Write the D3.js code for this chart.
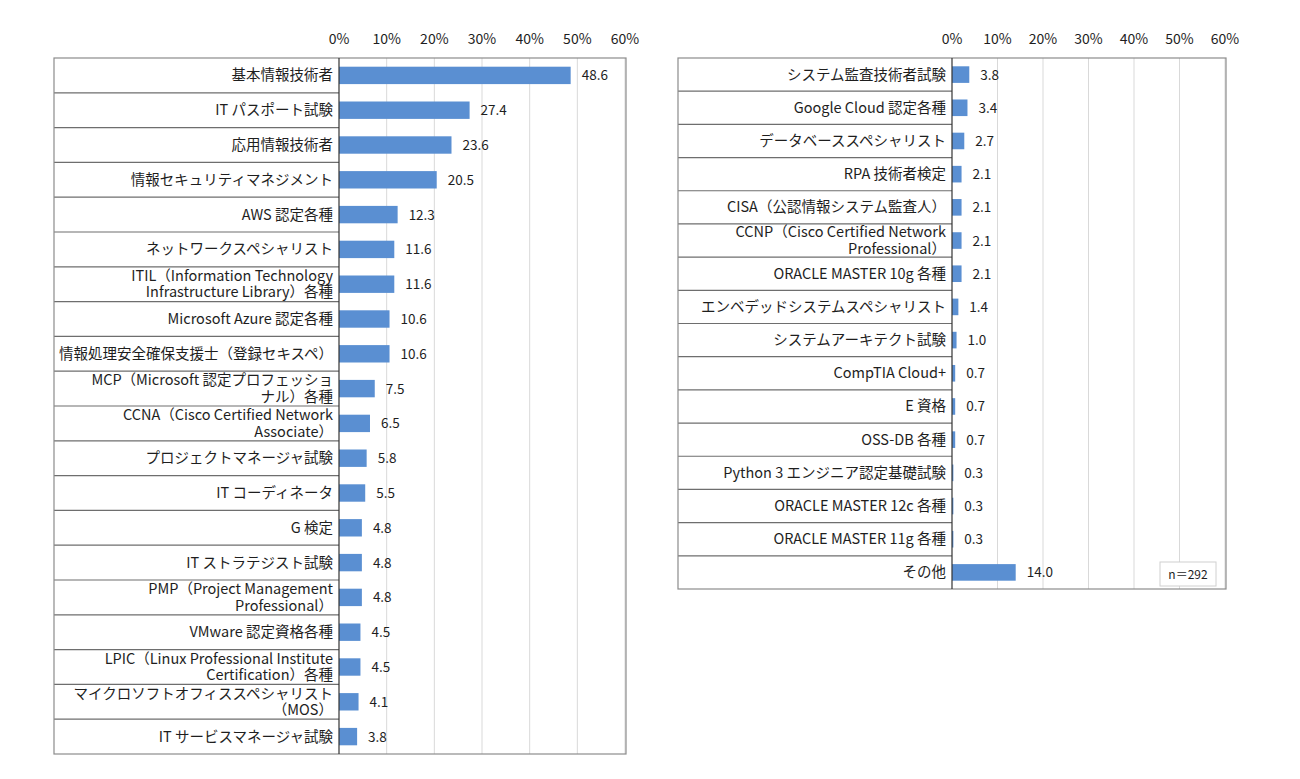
<!DOCTYPE html>
<html>
<head>
<meta charset="utf-8">
<script src="https://cdn.jsdelivr.net/npm/d3@7"></script>
<style>
  body { margin: 0; background: #fff; }
  text { font-family: "Noto Sans CJK JP", "Noto Sans", sans-serif; fill: #1e1e1e; }
</style>
</head>
<body>
<svg id="chart" width="1300" height="779"></svg>
<script>
'use strict';

const leftCategories = [
  "基本情報技術者", "IT パスポート試験", "応用情報技術者", "情報セキュリティマネジメント",
  "AWS 認定各種", "ネットワークスペシャリスト",
  "ITIL（Information Technology\nInfrastructure Library）各種",
  "Microsoft Azure 認定各種", "情報処理安全確保支援士（登録セキスペ）",
  "MCP（Microsoft 認定プロフェッショ\nナル）各種",
  "CCNA（Cisco Certified Network\nAssociate）",
  "プロジェクトマネージャ試験", "IT コーディネータ", "G 検定", "IT ストラテジスト試験",
  "PMP（Project Management\nProfessional）",
  "VMware 認定資格各種",
  "LPIC（Linux Professional Institute\nCertification）各種",
  "マイクロソフトオフィススペシャリスト\n（MOS）",
  "IT サービスマネージャ試験"
];
const leftValues = [48.6, 27.4, 23.6, 20.5, 12.3, 11.6, 11.6, 10.6, 10.6, 7.5,
  6.5, 5.8, 5.5, 4.8, 4.8, 4.8, 4.5, 4.5, 4.1, 3.8];

const rightCategories = [
  "システム監査技術者試験", "Google Cloud 認定各種", "データベーススペシャリスト",
  "RPA 技術者検定", "CISA（公認情報システム監査人）",
  "CCNP（Cisco Certified Network\nProfessional）",
  "ORACLE MASTER 10g 各種", "エンベデッドシステムスペシャリスト",
  "システムアーキテクト試験", "CompTIA Cloud+", "E 資格", "OSS-DB 各種",
  "Python 3 エンジニア認定基礎試験", "ORACLE MASTER 12c 各種",
  "ORACLE MASTER 11g 各種", "その他"
];
const rightValues = [3.8, 3.4, 2.7, 2.1, 2.1, 2.1, 2.1, 1.4, 1.0, 0.7, 0.7, 0.7,
  0.3, 0.3, 0.3, 14.0];

const tickValues = [0, 10, 20, 30, 40, 50, 60];
const sampleNote = "n＝292";

const svg = d3.select("#chart");

function drawPanel (cats, vals, box) {
  let g = svg.append("g");

  let x = d3.scaleLinear().domain([0, 60]).range([box.axisX, box.right - 1]);
  let y = d3.scaleBand().domain(cats).range([box.top, box.bottom]).padding(0);

  // gridlines
  g.selectAll(".grid")
    .data(tickValues.slice(1))
    .enter().append("line")
      .attr("x1", d => x(d)).attr("x2", d => x(d))
      .attr("y1", box.top).attr("y2", box.bottom)
      .attr("stroke", "#d9d9d9").attr("stroke-width", 1);

  // tick labels on top
  g.selectAll(".tick")
    .data(tickValues)
    .enter().append("text")
      .attr("x", d => x(d))
      .attr("y", 44)
      .attr("text-anchor", "middle")
      .attr("font-size", 14)
      .text(d => d + "%");

  // row separators in the label area
  g.selectAll(".sep")
    .data(cats.slice(1))
    .enter().append("line")
      .attr("x1", box.left).attr("x2", box.axisX)
      .attr("y1", d => y(d)).attr("y2", d => y(d))
      .attr("stroke", "#6e6e6e").attr("stroke-width", 1.2);

  // bars
  g.selectAll(".bar")
    .data(cats)
    .enter().append("rect")
      .attr("x", x(0))
      .attr("y", d => y(d) + y.bandwidth() * 0.25)
      .attr("width", (d, i) => x(vals[i]) - x(0))
      .attr("height", y.bandwidth() * 0.5)
      .attr("fill", "#5a8fd2");

  // value labels
  g.selectAll(".val")
    .data(cats)
    .enter().append("text")
      .attr("x", (d, i) => x(vals[i]) + 11)
      .attr("y", d => y(d) + y.bandwidth() / 2 + 5)
      .attr("font-size", 13.5)
      .text((d, i) => vals[i].toFixed(1));

  // category labels
  g.selectAll(".cat")
    .data(cats)
    .enter().append("text")
      .attr("text-anchor", "end")
      .attr("font-size", 14.5)
      .each(function (d) {
        let lines = d.split("\n");
        let cy = y(d) + y.bandwidth() / 2;
        let t = d3.select(this);
        lines.forEach((ln, k) => {
          t.append("tspan")
            .attr("x", box.axisX - 6)
            .attr("y", cy + 5 + (k - (lines.length - 1) / 2) * 16.5)
            .text(ln);
        });
      });

  // frame and axis line
  g.append("rect")
    .attr("x", box.left).attr("y", box.top)
    .attr("width", box.right - box.left).attr("height", box.bottom - box.top)
    .attr("fill", "none").attr("stroke", "#8c8c8c").attr("stroke-width", 1.2);

  g.append("line")
    .attr("x1", box.axisX).attr("x2", box.axisX)
    .attr("y1", box.top).attr("y2", box.bottom)
    .attr("stroke", "#333").attr("stroke-width", 1.2);

  return x;
}

drawPanel(leftCategories, leftValues, {left: 54, right: 626, top: 58, bottom: 754, axisX: 339});
drawPanel(rightCategories, rightValues, {left: 678, right: 1226, top: 58, bottom: 589, axisX: 952});

// sample size note
let note = svg.append("g");
note.append("rect")
  .attr("x", 1160).attr("y", 562).attr("width", 56).attr("height", 24)
  .attr("fill", "#fff").attr("stroke", "#d0d0d0");
note.append("text")
  .attr("x", 1188).attr("y", 579)
  .attr("text-anchor", "middle")
  .attr("font-size", 12)
  .text(sampleNote);
</script>
</body>
</html>
